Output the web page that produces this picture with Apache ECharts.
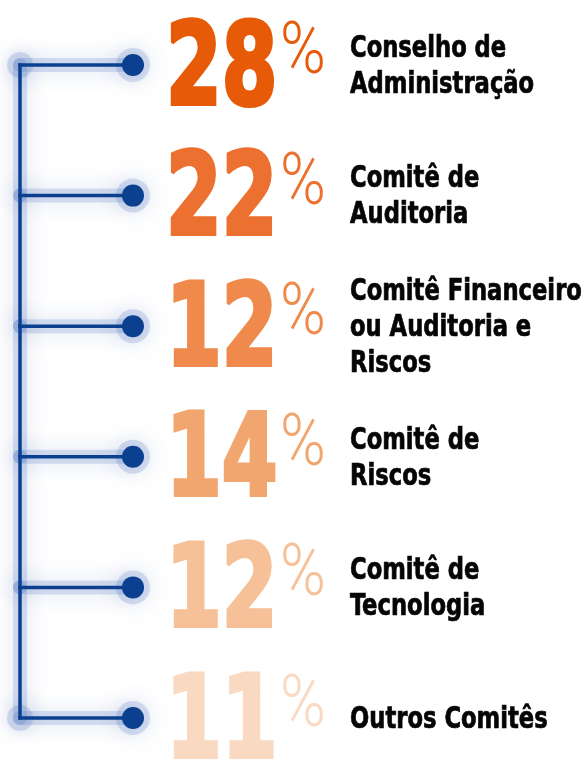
<!DOCTYPE html>
<html>
<head>
<meta charset="utf-8">
<script src="https://cdn.jsdelivr.net/npm/echarts@6/dist/echarts.min.js"></script>
<style>
  html, body { margin: 0; padding: 0; background: #fff; }
  #chart { width: 584px; height: 760px; }
</style>
</head>
<body>
<div id="chart"></div>
<script>
const categories = [
  'Conselho de\nAdministração',
  'Comitê de\nAuditoria',
  'Comitê Financeiro\nou Auditoria e\nRiscos',
  'Comitê de\nRiscos',
  'Comitê de\nTecnologia',
  'Outros Comitês'
]
const shares = [28, 22, 12, 14, 12, 11]

// styling
const shadeColors = ['#e65a08', '#ec7030', '#ef8a4c', '#f2a66f', '#f6c198', '#f9d9c2']
const lineColor = '#0b3f8f'
const glowColor = 'rgba(50,90,170,0.75)'
const trunkX = 20
const dotX = 133
const numberX = 166
const percentX = 280
const labelX = 350
const condensed = '"DejaVu Sans Condensed", "DejaVu Sans", sans-serif'

function glowLine(x1, y1, x2, y2) {
  return {
    type: 'line', z2: 1,
    shape: { x1, y1, x2, y2 },
    style: { stroke: 'rgba(70,110,190,0.2)', lineWidth: 14, lineCap: 'round', shadowBlur: 22, shadowColor: glowColor }
  }
}

function glowDot(cx, cy, r) {
  return {
    type: 'circle', z2: 1,
    shape: { cx, cy, r },
    style: { fill: 'rgba(70,110,190,0.2)', shadowBlur: 22, shadowColor: glowColor }
  }
}

function renderItem(params, api) {
  const i = params.dataIndex
  const y = api.coord([0, i])[1]
  const last = categories.length - 1
  const children = []

  if (i < last) {
    const yNext = api.coord([0, i + 1])[1]
    children.push(glowLine(trunkX, y, trunkX, yNext))
    children.push({ type: 'line', z2: 10, shape: { x1: trunkX, y1: y - 1.75, x2: trunkX, y2: yNext + 1.75 }, style: { stroke: lineColor, lineWidth: 3.5 } })
  }
  children.push(glowLine(trunkX, y, dotX, y))
  if (i === 0 || i === last) children.push(glowDot(trunkX, y, 13))
  children.push(glowDot(dotX, y, 17))
  children.push({ type: 'line', z2: 10, shape: { x1: trunkX - 1.75, y1: y, x2: dotX, y2: y }, style: { stroke: lineColor, lineWidth: 3.5 } })
  children.push({ type: 'circle', z2: 11, shape: { cx: dotX, cy: y, r: 11 }, style: { fill: lineColor } })

  children.push({
    type: 'text', z2: 12, x: numberX, y: y + 9, scaleX: 0.78,
    style: {
      x: 0, y: 0, text: String(api.value(1)),
      fill: shadeColors[i], stroke: shadeColors[i], lineWidth: 4, lineJoin: 'round',
      fontFamily: condensed, fontWeight: 'bold', fontSize: 114,
      align: 'left', verticalAlign: 'middle'
    }
  })
  children.push({
    type: 'text', z2: 12, x: percentX, y: y - 10, scaleX: 0.86,
    style: {
      x: 0, y: 0, text: '%',
      fill: shadeColors[i], fontFamily: 'Roboto, sans-serif', fontWeight: 300, fontSize: 72,
      align: 'left', verticalAlign: 'middle'
    }
  })
  children.push({
    type: 'text', z2: 12, x: labelX, y: y + 2, scaleX: 0.84,
    style: {
      x: 0, y: 0, text: categories[i],
      fill: '#050505', stroke: '#050505', lineWidth: 0.7,
      fontFamily: condensed, fontWeight: 'bold', fontSize: 30, lineHeight: 36,
      align: 'left', verticalAlign: 'middle'
    }
  })
  return { type: 'group', children }
}

const chart = echarts.init(document.getElementById('chart'), null, { renderer: 'canvas' })
chart.setOption({
  animation: false,
  grid: { left: 0, right: 0, top: 65, bottom: 42 },
  xAxis: { type: 'value', min: 0, max: 1, show: false },
  yAxis: { type: 'category', data: categories, inverse: true, boundaryGap: false, show: false },
  series: [{
    type: 'custom',
    renderItem: renderItem,
    data: shares.map((v, i) => [i, v]),
    encode: { x: 1, y: 0 },
    clip: false
  }]
})
</script>
</body>
</html>
